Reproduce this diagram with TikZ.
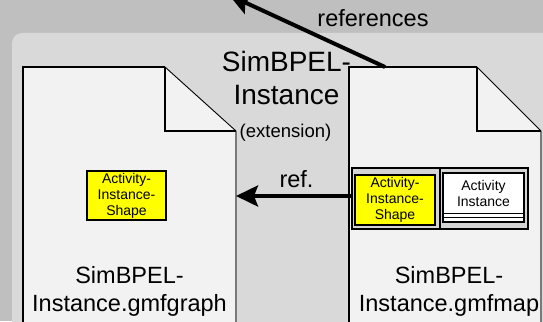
\documentclass[tikz,border=0pt]{standalone}
\usepackage{fontspec}
\setmainfont{Liberation Sans}
\usetikzlibrary{arrows.meta}

\definecolor{outerbg}{HTML}{BFBFBF}
\definecolor{panelbg}{HTML}{D9D9D9}
\definecolor{docfill}{HTML}{F2F2F2}
\definecolor{boxgray}{HTML}{D4D4D4}
\definecolor{shapeyellow}{HTML}{FFFF00}
\definecolor{edgegray}{HTML}{7A7A7A}

\tikzset{
  docarea/.style={rectangle, draw=none, inner sep=0pt, outer sep=0pt},
  docline/.style={draw=black, line width=1.2pt, line join=miter},
  docshadow/.style={draw=edgegray, line width=2pt},
  bigarrow/.style={line width=4pt, -{Stealth[length=22pt,width=21pt,inset=4pt]}},
  bigfont/.style={font=\fontsize{23.5}{28}\selectfont},
  titlefont/.style={font=\fontsize{28}{33}\selectfont},
  smallfont/.style={font=\fontsize{14}{16}\selectfont},
  shapebox/.style={rectangle, draw=black, line width=1.3pt, fill=shapeyellow,
    inner sep=0pt, align=center, smallfont},
  mapframe/.style={rectangle, draw=black, line width=1.3pt, fill=boxgray, inner sep=0pt},
  elembox/.style={rectangle, draw=black, line width=1.3pt, fill=white, inner sep=0pt},
  plain/.style={inner sep=0pt, outer sep=0pt}
}

% dog-eared document: #1 node, #2 fold width, #3 fold height
\newcommand\drawdocument[3]{%
  \fill[docfill] (#1.south west) -- (#1.north west) -- ([xshift=-#2]#1.north east)
    -- ([yshift=-#3]#1.north east) -- (#1.south east) -- cycle;
  \draw[docline] (#1.south west) -- (#1.north west) -- ([xshift=-#2]#1.north east);
  \draw[black, line width=0.9pt] ([xshift=-#2]#1.north east) -- ([yshift=-#3]#1.north east);
  \draw[docshadow] ([yshift=-#3]#1.north east) -- (#1.south east);
  \draw[docline] ([xshift=-#2]#1.north east) -- ([xshift=-#2,yshift=-#3]#1.north east)
    -- ([yshift=-#3]#1.north east);
}

\begin{document}
\begin{tikzpicture}[x=1pt, y=-1pt]
\useasboundingbox (0,0) rectangle (543,321);

% backgrounds
\fill[outerbg] (0,0) rectangle (543,321);
\fill[panelbg, rounded corners=10pt] (12,33) rectangle (570,350);

% the two documents
\node[docarea, minimum width=213pt, minimum height=270pt, anchor=north west] (gdoc) at (23,67) {};
\node[docarea, minimum width=192pt, minimum height=270pt, anchor=north west] (mdoc) at (349,67) {};
\drawdocument{gdoc}{71pt}{64pt}
\drawdocument{mdoc}{64pt}{64pt}

% package title
\node[plain, titlefont, align=center, anchor=north] (title) at (286.5,51) {SimBPEL-\\Instance};
\node[plain, font=\fontsize{18.5}{22}\selectfont, anchor=base] (ext) at (285.5,137) {(extension)};

% graph file content
\node[shapebox, minimum width=79pt, minimum height=49pt] (gshape) at (126.5,195.5)
  {Activity-\\Instance-\\Shape};
\node[plain, bigfont, align=center, anchor=north] (glabel) at (129.5,266)
  {SimBPEL-\\Instance.gmfgraph};

% mapping file content
\node[mapframe, minimum width=176pt, minimum height=61pt] (mapbox) at (440,198.5) {};
\draw[black, line width=1.3pt] (mapbox.north) -- (mapbox.south);
\node[shapebox, minimum width=80pt, minimum height=50pt] (mshape) at (395,200)
  {Activity-\\Instance-\\Shape};
\node[elembox, minimum width=81pt, minimum height=49pt] (melem) at (483.5,197.5) {};
\draw[black, line width=1.3pt] ([yshift=-41pt]melem.north west) -- ([yshift=-41pt]melem.north east);
\draw[black, line width=0.8pt] ([yshift=-45.5pt]melem.north west) -- ([yshift=-45.5pt]melem.north east);
\node[plain, smallfont, align=center] (mtext) at (483.5,193.5) {Activity\\Instance};
\node[plain, bigfont, align=center, anchor=north] (mlabel) at (449,266)
  {SimBPEL-\\Instance.gmfmap};

% connectors
\draw[bigarrow] ([yshift=2.5pt]mapbox.west) -- ([yshift=2.5pt]gdoc.east |- mapbox.west);
\node[plain, bigfont, anchor=base] (reflabel) at (296.5,187) {ref.};

\coordinate (outside) at (229,-5);
\draw[bigarrow] ([xshift=36pt]mdoc.north west) -- (outside);
\node[plain, bigfont, anchor=base] (refslabel) at (373,27) {references};
\end{tikzpicture}
\end{document}
